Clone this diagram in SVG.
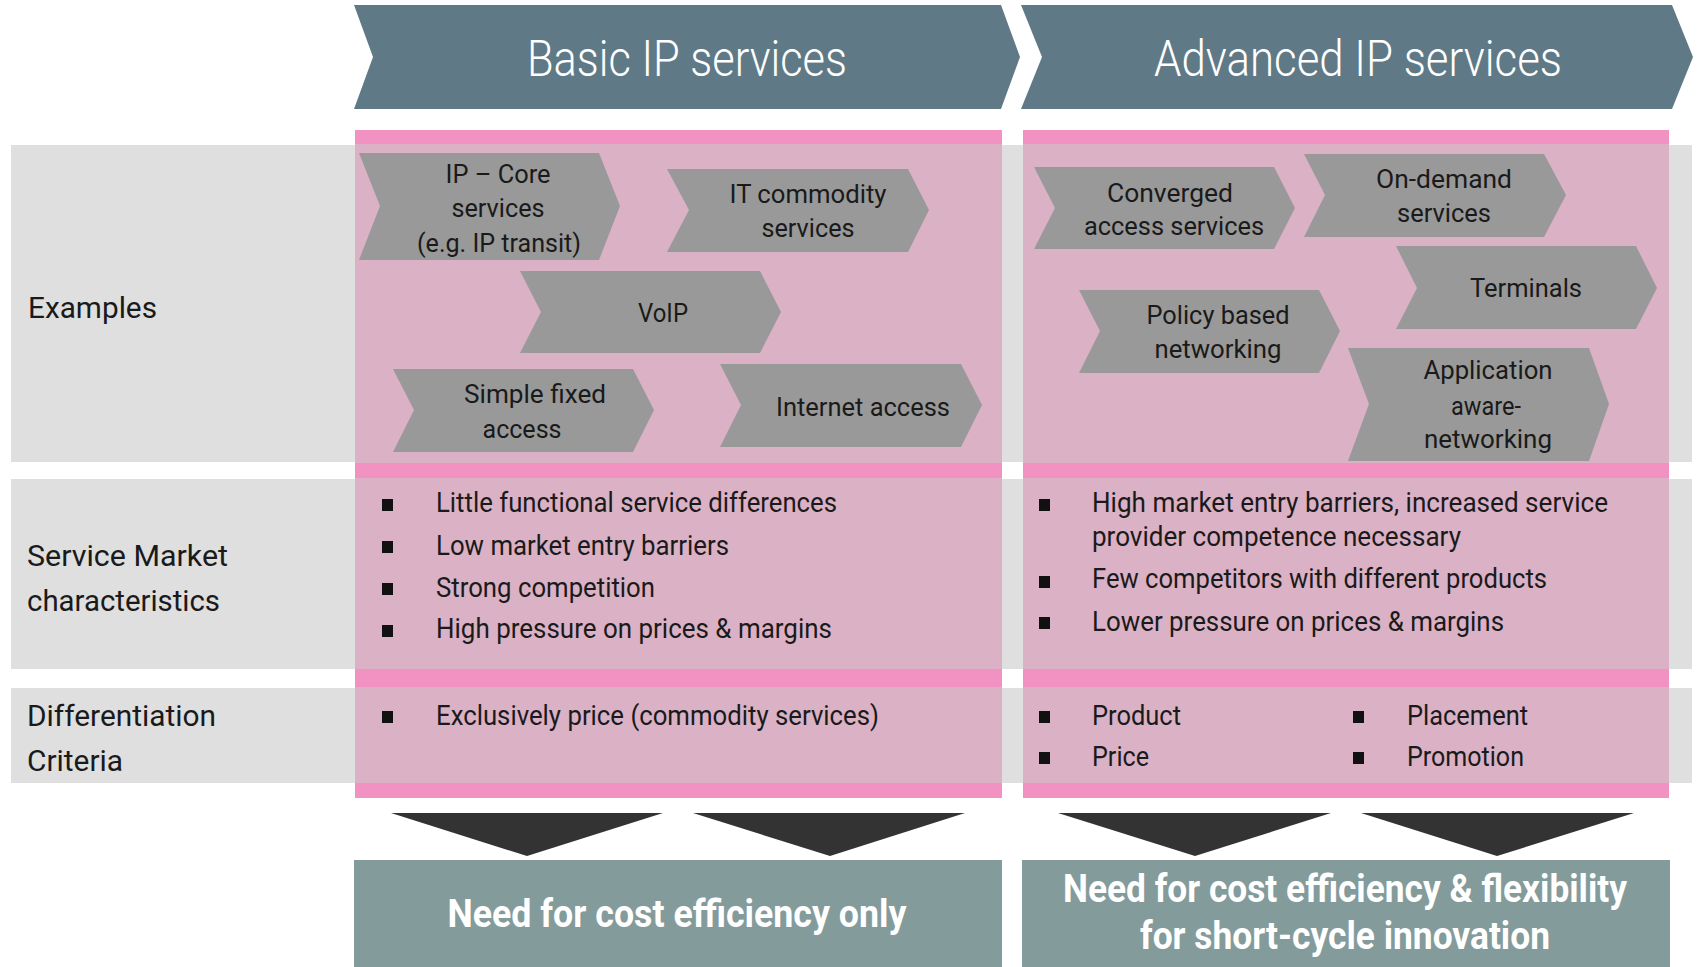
<svg xmlns="http://www.w3.org/2000/svg" width="1697" height="967" viewBox="0 0 1697 967">
<style>
.band{fill:#dfdfdf}
.stripe{fill:#f192c2}
.body{fill:#dab1c5}
.hdr{fill:#5f7a86}
.hdrt{font-family:Roboto,"Liberation Sans",sans-serif;font-weight:300;font-size:50px;fill:#fff;text-anchor:middle}
.chev{fill:#999999}
.ct{font-family:Roboto,"Liberation Sans",sans-serif;font-size:26px;fill:#1a1a1a;text-anchor:middle}
.lbl{font-family:Roboto,"Liberation Sans",sans-serif;font-size:30px;fill:#1a1a1a}
.bt{font-family:Roboto,"Liberation Sans",sans-serif;font-size:28px;fill:#1a1a1a}
.bul{fill:#111}
.tri{fill:#333333}
.out{fill:#849b9b}
.outt{font-family:Roboto,"Liberation Sans",sans-serif;font-weight:bold;font-size:38px;fill:#fff;text-anchor:middle}
</style>

<!-- row bands -->
<g id="rows">
<rect class="band" x="11" y="145" width="1681" height="317"/>
<rect class="band" x="11" y="479" width="1681" height="190"/>
<rect class="band" x="11" y="688" width="1681" height="95"/>
<text class="lbl" x="28" y="318" textLength="129" lengthAdjust="spacingAndGlyphs">Examples</text>
<text class="lbl" x="27" y="566" textLength="201" lengthAdjust="spacingAndGlyphs">Service Market</text>
<text class="lbl" x="27" y="611" textLength="193" lengthAdjust="spacingAndGlyphs">characteristics</text>
<text class="lbl" x="27" y="726" textLength="189" lengthAdjust="spacingAndGlyphs">Differentiation</text>
<text class="lbl" x="27" y="771" textLength="96" lengthAdjust="spacingAndGlyphs">Criteria</text>
</g>

<!-- columns -->
<g id="col-basic">
<rect class="stripe" x="355" y="130" width="647" height="668"/>
<rect class="body" x="355" y="144" width="647" height="319"/>
<rect class="body" x="355" y="478" width="647" height="191"/>
<rect class="body" x="355" y="687" width="647" height="96"/>
</g>
<g id="col-advanced">
<rect class="stripe" x="1023" y="130" width="646" height="668"/>
<rect class="body" x="1023" y="144" width="646" height="319"/>
<rect class="body" x="1023" y="478" width="646" height="191"/>
<rect class="body" x="1023" y="687" width="646" height="96"/>
</g>

<!-- headers -->
<g id="hdr-basic">
<polygon class="hdr" points="354,5 1001,5 1020,57 1001,109 354,109 373,57"/>
<text class="hdrt" x="687" y="76" textLength="320" lengthAdjust="spacingAndGlyphs">Basic IP services</text>
</g>
<g id="hdr-advanced">
<polygon class="hdr" points="1021,5 1672,5 1693,57 1672,109 1021,109 1042,57"/>
<text class="hdrt" x="1358" y="76" textLength="408" lengthAdjust="spacingAndGlyphs">Advanced IP services</text>
</g>

<!-- basic examples -->
<g id="ex-ipcore">
<polygon class="chev" points="359,153 599,153 620,206 599,260 359,260 380,206"/>
<text class="ct" x="498" y="183" textLength="105" lengthAdjust="spacingAndGlyphs">IP – Core</text>
<text class="ct" x="498" y="217" textLength="93" lengthAdjust="spacingAndGlyphs">services</text>
<text class="ct" x="499" y="252" textLength="164" lengthAdjust="spacingAndGlyphs">(e.g. IP transit)</text>
</g>
<g id="ex-itcommodity">
<polygon class="chev" points="667,169 908,169 929,210 908,252 667,252 689,210"/>
<text class="ct" x="808" y="203" textLength="157" lengthAdjust="spacingAndGlyphs">IT commodity</text>
<text class="ct" x="808" y="237" textLength="93" lengthAdjust="spacingAndGlyphs">services</text>
</g>
<g id="ex-voip">
<polygon class="chev" points="520,271 760,271 781,312 760,353 520,353 541,312"/>
<text class="ct" x="663" y="322" textLength="50" lengthAdjust="spacingAndGlyphs">VoIP</text>
</g>
<g id="ex-simplefixed">
<polygon class="chev" points="393,369 633,369 654,410 633,452 393,452 414,410"/>
<text class="ct" x="535" y="403" textLength="142" lengthAdjust="spacingAndGlyphs">Simple fixed</text>
<text class="ct" x="522" y="438" textLength="79" lengthAdjust="spacingAndGlyphs">access</text>
</g>
<g id="ex-internet">
<polygon class="chev" points="720,364 961,364 982,405 961,447 720,447 741,405"/>
<text class="ct" x="863" y="416" textLength="174" lengthAdjust="spacingAndGlyphs">Internet access</text>
</g>

<!-- advanced examples -->
<g id="ex-converged">
<polygon class="chev" points="1034,167 1274,167 1295,208 1274,249 1034,249 1055,208"/>
<text class="ct" x="1170" y="202" textLength="126" lengthAdjust="spacingAndGlyphs">Converged</text>
<text class="ct" x="1174" y="235" textLength="180" lengthAdjust="spacingAndGlyphs">access services</text>
</g>
<g id="ex-ondemand">
<polygon class="chev" points="1304,154 1544,154 1566,195 1544,237 1304,237 1325,195"/>
<text class="ct" x="1444" y="188" textLength="136" lengthAdjust="spacingAndGlyphs">On-demand</text>
<text class="ct" x="1444" y="222" textLength="94" lengthAdjust="spacingAndGlyphs">services</text>
</g>
<g id="ex-terminals">
<polygon class="chev" points="1396,246 1636,246 1657,288 1636,329 1396,329 1417,288"/>
<text class="ct" x="1526" y="297" textLength="112" lengthAdjust="spacingAndGlyphs">Terminals</text>
</g>
<g id="ex-policy">
<polygon class="chev" points="1079,290 1319,290 1340,331 1319,373 1079,373 1100,331"/>
<text class="ct" x="1218" y="324" textLength="143" lengthAdjust="spacingAndGlyphs">Policy based</text>
<text class="ct" x="1218" y="358" textLength="127" lengthAdjust="spacingAndGlyphs">networking</text>
</g>
<g id="ex-application">
<polygon class="chev" points="1348,348 1589,348 1609,404 1589,461 1348,461 1369,404"/>
<text class="ct" x="1488" y="379" textLength="129" lengthAdjust="spacingAndGlyphs">Application</text>
<text class="ct" x="1486" y="415" textLength="70" lengthAdjust="spacingAndGlyphs">aware-</text>
<text class="ct" x="1488" y="448" textLength="128" lengthAdjust="spacingAndGlyphs">networking</text>
</g>

<!-- market characteristics -->
<g id="market-basic">
<rect class="bul" x="382" y="499" width="11" height="12"/>
<rect class="bul" x="382" y="541" width="11" height="12"/>
<rect class="bul" x="382" y="583" width="11" height="12"/>
<rect class="bul" x="382" y="625" width="11" height="12"/>
<text class="bt" x="436" y="512" textLength="401" lengthAdjust="spacingAndGlyphs">Little functional service differences</text>
<text class="bt" x="436" y="555" textLength="293" lengthAdjust="spacingAndGlyphs">Low market entry barriers</text>
<text class="bt" x="436" y="597" textLength="219" lengthAdjust="spacingAndGlyphs">Strong competition</text>
<text class="bt" x="436" y="638" textLength="396" lengthAdjust="spacingAndGlyphs">High pressure on prices &amp; margins</text>
</g>
<g id="market-advanced">
<rect class="bul" x="1039" y="499" width="11" height="12"/>
<rect class="bul" x="1039" y="576" width="11" height="12"/>
<rect class="bul" x="1039" y="617" width="11" height="12"/>
<text class="bt" x="1092" y="512" textLength="516" lengthAdjust="spacingAndGlyphs">High market entry barriers, increased service</text>
<text class="bt" x="1092" y="546" textLength="369" lengthAdjust="spacingAndGlyphs">provider competence necessary</text>
<text class="bt" x="1092" y="588" textLength="455" lengthAdjust="spacingAndGlyphs">Few competitors with different products</text>
<text class="bt" x="1092" y="631" textLength="412" lengthAdjust="spacingAndGlyphs">Lower pressure on prices &amp; margins</text>
</g>

<!-- differentiation -->
<g id="diff-basic">
<rect class="bul" x="382" y="711" width="11" height="12"/>
<text class="bt" x="436" y="725" textLength="443" lengthAdjust="spacingAndGlyphs">Exclusively price (commodity services)</text>
</g>
<g id="diff-advanced">
<rect class="bul" x="1039" y="711" width="11" height="12"/>
<rect class="bul" x="1039" y="752" width="11" height="12"/>
<rect class="bul" x="1353" y="711" width="11" height="12"/>
<rect class="bul" x="1353" y="752" width="11" height="12"/>
<text class="bt" x="1092" y="725" textLength="89" lengthAdjust="spacingAndGlyphs">Product</text>
<text class="bt" x="1092" y="766" textLength="57" lengthAdjust="spacingAndGlyphs">Price</text>
<text class="bt" x="1407" y="725" textLength="121" lengthAdjust="spacingAndGlyphs">Placement</text>
<text class="bt" x="1407" y="766" textLength="117" lengthAdjust="spacingAndGlyphs">Promotion</text>
</g>

<!-- connectors (down arrows) -->
<g id="connectors">
<polygon class="tri" points="391,813 663,813 527,856"/>
<polygon class="tri" points="693,813 965,813 830,856"/>
<polygon class="tri" points="1058,813 1331,813 1195,856"/>
<polygon class="tri" points="1361,813 1634,813 1497,856"/>
</g>

<!-- outcomes -->
<g id="out-basic">
<rect class="out" x="354" y="860" width="648" height="107"/>
<text class="outt" x="677" y="927" textLength="459" lengthAdjust="spacingAndGlyphs">Need for cost efficiency only</text>
</g>
<g id="out-advanced">
<rect class="out" x="1022" y="860" width="648" height="107"/>
<text class="outt" x="1345" y="902" textLength="564" lengthAdjust="spacingAndGlyphs">Need for cost efficiency &amp; flexibility</text>
<text class="outt" x="1345" y="949" textLength="410" lengthAdjust="spacingAndGlyphs">for short-cycle innovation</text>
</g>
</svg>
